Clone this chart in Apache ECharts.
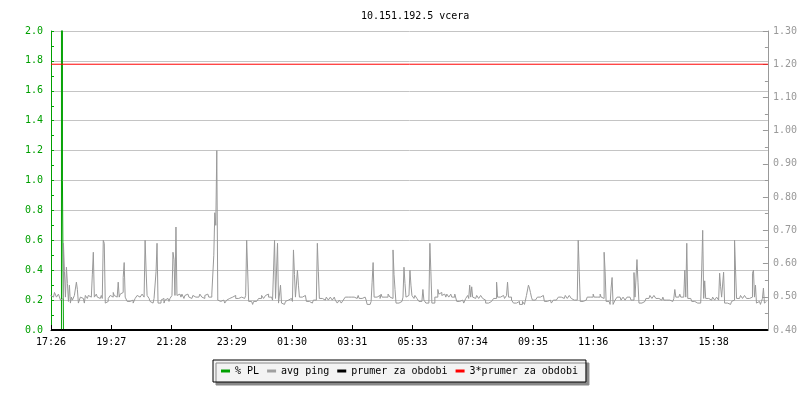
<!DOCTYPE html>
<html>
<head>
<meta charset="utf-8">
<script src="https://cdn.jsdelivr.net/npm/echarts@6/dist/echarts.min.js"></script>
<style>
html,body{margin:0;padding:0;background:#fff;}
#c{width:800px;height:400px;}
</style>
</head>
<body>
<div id="c"></div>
<script>
// ---- data ----
const chartTitle = '10.151.192.5 vcera';
const timeLabels = ['17:26','19:27','21:28','23:29','01:30','03:31','05:33','07:34','09:35','11:36','13:37','15:38'];
const labelStepMin = 121;      // minutes between time labels
const spanMin = 1440;          // 24 h
const pingStartMin = -1;       // time of first avg ping sample
const sampleStepMin = 2;       // avg ping sample spacing (minutes)
const leftTicks = [0, 2, 0.2];      // % PL axis: min, max, interval
const rightTicks = [0.4, 1.3, 0.1]; // ms axis: min, max, interval

// avg ping [ms], one value per 2 minutes
const avgPing = [
0.504,0.508,0.499,0.504,0.513,0.508,0.499,0.504,0.508,0.513,
0.490,0.486,0.495,0.661,0.576,0.499,0.589,0.540,0.486,0.535,
0.481,0.499,0.490,0.495,0.504,0.499,0.544,0.522,0.481,0.486,
0.499,0.504,0.495,0.499,0.481,0.504,0.499,0.495,0.504,0.508,
0.499,0.504,0.566,0.634,0.499,0.504,0.508,0.499,0.504,0.495,
0.499,0.504,0.495,0.670,0.661,0.481,0.481,0.486,0.495,0.499,
0.504,0.508,0.499,0.513,0.504,0.508,0.499,0.504,0.544,0.499,
0.508,0.504,0.513,0.558,0.603,0.499,0.504,0.486,0.481,0.486,
0.481,0.486,0.490,0.481,0.486,0.495,0.499,0.504,0.508,0.499,
0.504,0.499,0.508,0.504,0.499,0.670,0.580,0.504,0.499,0.495,
0.486,0.490,0.481,0.486,0.495,0.490,0.576,0.661,0.481,0.486,
0.481,0.490,0.486,0.495,0.481,0.490,0.486,0.495,0.490,0.486,
0.495,0.499,0.504,0.634,0.612,0.504,0.710,0.504,0.499,0.508,
0.504,0.499,0.508,0.504,0.495,0.504,0.499,0.508,0.504,0.499,
0.504,0.495,0.499,0.504,0.508,0.499,0.504,0.495,0.499,0.504,
0.508,0.504,0.499,0.504,0.495,0.504,0.499,0.508,0.504,0.499,
0.504,0.499,0.508,0.504,0.625,0.753,0.715,0.940,0.490,0.486,
0.486,0.481,0.486,0.490,0.486,0.481,0.486,0.490,0.486,0.495,
0.499,0.495,0.499,0.495,0.499,0.504,0.495,0.499,0.495,0.499,
0.495,0.499,0.504,0.499,0.495,0.499,0.504,0.670,0.580,0.486,
0.481,0.486,0.481,0.477,0.486,0.481,0.486,0.490,0.486,0.495,
0.499,0.495,0.504,0.499,0.495,0.499,0.504,0.499,0.508,0.499,
0.504,0.499,0.495,0.490,0.580,0.670,0.495,0.499,0.661,0.481,
0.477,0.535,0.481,0.486,0.477,0.481,0.486,0.481,0.490,0.486,
0.490,0.495,0.490,0.486,0.641,0.567,0.499,0.495,0.580,0.535,
0.499,0.495,0.499,0.495,0.499,0.504,0.499,0.486,0.481,0.486,
0.481,0.486,0.481,0.486,0.490,0.495,0.490,0.495,0.661,0.576,
0.495,0.499,0.495,0.499,0.495,0.490,0.495,0.499,0.495,0.490,
0.495,0.499,0.495,0.490,0.495,0.499,0.490,0.486,0.481,0.486,
0.490,0.486,0.481,0.486,0.490,0.495,0.499,0.495,0.499,0.504,
0.495,0.499,0.495,0.504,0.499,0.495,0.499,0.495,0.499,0.504,
0.495,0.499,0.495,0.490,0.495,0.499,0.495,0.490,0.477,0.481,
0.477,0.481,0.486,0.544,0.603,0.499,0.495,0.499,0.504,0.499,
0.504,0.495,0.508,0.499,0.504,0.499,0.495,0.504,0.499,0.508,
0.504,0.499,0.504,0.495,0.641,0.567,0.522,0.481,0.486,0.481,
0.486,0.481,0.486,0.490,0.499,0.589,0.540,0.499,0.495,0.504,
0.499,0.580,0.535,0.504,0.499,0.495,0.504,0.499,0.495,0.490,
0.486,0.490,0.486,0.490,0.522,0.490,0.486,0.481,0.486,0.481,
0.481,0.661,0.576,0.481,0.477,0.481,0.499,0.504,0.499,0.522,
0.508,0.504,0.513,0.504,0.499,0.508,0.504,0.499,0.508,0.504,
0.499,0.504,0.508,0.499,0.504,0.499,0.508,0.504,0.486,0.481,
0.486,0.481,0.486,0.490,0.486,0.481,0.486,0.495,0.499,0.504,
0.495,0.535,0.499,0.530,0.499,0.504,0.495,0.499,0.504,0.499,
0.495,0.499,0.504,0.499,0.495,0.499,0.490,0.481,0.477,0.481,
0.477,0.481,0.486,0.481,0.486,0.495,0.499,0.495,0.544,0.499,
0.504,0.499,0.495,0.499,0.504,0.499,0.495,0.499,0.504,0.544,
0.499,0.495,0.499,0.490,0.486,0.481,0.477,0.481,0.477,0.481,
0.486,0.477,0.481,0.477,0.486,0.481,0.477,0.490,0.504,0.508,
0.535,0.526,0.513,0.499,0.490,0.486,0.490,0.495,0.490,0.499,
0.504,0.499,0.495,0.499,0.504,0.499,0.486,0.490,0.486,0.481,
0.486,0.490,0.486,0.481,0.486,0.490,0.486,0.490,0.486,0.495,
0.499,0.495,0.499,0.504,0.499,0.495,0.499,0.504,0.499,0.495,
0.499,0.504,0.499,0.495,0.499,0.490,0.495,0.490,0.490,0.486,
0.670,0.576,0.486,0.481,0.486,0.481,0.486,0.490,0.495,0.499,
0.504,0.499,0.495,0.504,0.499,0.508,0.499,0.504,0.499,0.495,
0.504,0.499,0.508,0.499,0.504,0.495,0.634,0.576,0.486,0.481,
0.486,0.481,0.477,0.526,0.558,0.477,0.481,0.490,0.495,0.499,
0.495,0.499,0.495,0.490,0.495,0.499,0.495,0.490,0.495,0.499,
0.495,0.499,0.495,0.490,0.495,0.490,0.573,0.499,0.495,0.612,
0.544,0.481,0.486,0.481,0.477,0.481,0.486,0.490,0.495,0.499,
0.495,0.499,0.504,0.499,0.495,0.499,0.504,0.499,0.495,0.499,
0.495,0.499,0.495,0.490,0.495,0.499,0.490,0.486,0.490,0.486,
0.486,0.490,0.486,0.490,0.486,0.490,0.495,0.522,0.499,0.504,
0.499,0.504,0.508,0.499,0.504,0.499,0.495,0.580,0.499,0.661,
0.495,0.490,0.495,0.490,0.486,0.481,0.486,0.481,0.486,0.481,
0.477,0.486,0.481,0.486,0.580,0.700,0.495,0.548,0.495,0.499,
0.495,0.499,0.495,0.490,0.495,0.499,0.495,0.490,0.495,0.499,
0.495,0.490,0.571,0.530,0.499,0.495,0.574,0.481,0.477,0.481,
0.486,0.481,0.477,0.481,0.486,0.481,0.490,0.670,0.580,0.495,
0.499,0.495,0.499,0.504,0.499,0.495,0.499,0.504,0.499,0.495,
0.499,0.495,0.490,0.495,0.499,0.571,0.580,0.499,0.535,0.481,
0.477,0.486,0.481,0.477,0.486,0.495,0.526,0.481,0.486,0.481
];

// % PL (minutes from start, value)
const plTimes  = [0, 21, 21, 23, 23, 25, 25, 1440];
const plValues = [0, 0, 100, 100, 1.0, 1.0, 0, 0];

const prumerMs = 0.40;      // prumer za obdobi
const prumer3Ms = 1.20;     // 3*prumer za obdobi

const seriesNames = ['% PL', 'avg ping', 'prumer za obdobi', '3*prumer za obdobi'];
const seriesColors = ['#00a000', '#a0a0a0', '#000000', '#ff0000'];

// ---- chart ----
const FONT = '"DejaVu Sans Mono", monospace';
const chart = echarts.init(document.getElementById('c'), null, {renderer: 'canvas'});

const pingData = avgPing.map((v, i) => [pingStartMin + i * sampleStepMin, v]);
const plData = plTimes.map((t, i) => [t, plValues[i]]);
const prumerData = [[0, prumerMs], [spanMin, prumerMs]];
const prumer3Data = [[0, prumer3Ms], [spanMin, prumer3Ms]];

chart.setOption({
  animation: false,
  backgroundColor: '#ffffff',
  title: {
    text: chartTitle,
    left: 356, top: 6,
    textStyle: {fontFamily: FONT, fontSize: 10, fontWeight: 'normal', color: '#000'}
  },
  legend: {
    left: 213, top: 360,
    padding: [6, 8],
    itemGap: 8,
    itemWidth: 9, itemHeight: 3,
    backgroundColor: '#f3f3f3',
    borderColor: '#000', borderWidth: 1,
    shadowColor: '#888', shadowOffsetX: 3, shadowOffsetY: 3, shadowBlur: 0,
    textStyle: {fontFamily: FONT, fontSize: 10, color: '#000'},
    data: seriesNames.map(n => ({name: n, icon: 'rect'}))
  },
  grid: {left: 51, right: 29, top: 31, bottom: 70, containLabel: false},
  xAxis: {
    type: 'value', min: 0, max: spanMin, interval: labelStepMin,
    axisLine: {show: true, lineStyle: {color: '#000', width: 1}},
    axisTick: {show: true, inside: true, length: 5, lineStyle: {color: '#000'}},
    splitLine: {show: false},
    axisLabel: {
      color: '#000', fontFamily: FONT, fontSize: 10, margin: 7,
      showMaxLabel: false,
      formatter: function (v) {
        const k = Math.round(v / labelStepMin);
        if (Math.abs(v - k * labelStepMin) < 1e-6 && k < timeLabels.length) return timeLabels[k];
        return '';
      }
    }
  },
  yAxis: [
    {
      type: 'value', position: 'left',
      min: leftTicks[0], max: leftTicks[1], interval: leftTicks[2],
      axisLine: {show: true, lineStyle: {color: '#00a000', width: 1}},
      axisTick: {show: true, inside: true, length: 3, lineStyle: {color: '#00a000'}},
      minorTick: {show: true, splitNumber: 2, length: 3, lineStyle: {color: '#00a000'}},
      splitLine: {show: true, lineStyle: {color: '#c4c4c4', width: 1}},
      axisLabel: {color: '#00a000', fontFamily: FONT, fontSize: 10, margin: 8,
        formatter: v => v.toFixed(1)}
    },
    {
      type: 'value', position: 'right',
      min: rightTicks[0], max: rightTicks[1], interval: rightTicks[2],
      axisLine: {show: true, lineStyle: {color: '#999', width: 1}},
      axisTick: {show: true, inside: true, length: 5, lineStyle: {color: '#999'}},
      minorTick: {show: true, splitNumber: 2, length: 3, lineStyle: {color: '#999'}},
      splitLine: {show: false},
      axisLabel: {color: '#999', fontFamily: FONT, fontSize: 10, margin: 5,
        formatter: v => v.toFixed(2)}
    }
  ],
  series: [
    {
      name: seriesNames[0], type: 'line', yAxisIndex: 0, data: plData,
      showSymbol: false, color: seriesColors[0],
      lineStyle: {width: 1, color: seriesColors[0]}
    },
    {
      name: seriesNames[1], type: 'line', yAxisIndex: 1, data: pingData,
      step: 'end', showSymbol: false, color: seriesColors[1],
      lineStyle: {width: 1, color: '#999'}
    },
    {
      name: seriesNames[2], type: 'line', yAxisIndex: 1, data: prumerData,
      showSymbol: false, color: seriesColors[2],
      lineStyle: {width: 2, color: seriesColors[2]}
    },
    {
      name: seriesNames[3], type: 'line', yAxisIndex: 1, data: prumer3Data,
      showSymbol: false, color: seriesColors[3],
      lineStyle: {width: 1, color: seriesColors[3]}
    }
  ]
});
</script>
</body>
</html>
